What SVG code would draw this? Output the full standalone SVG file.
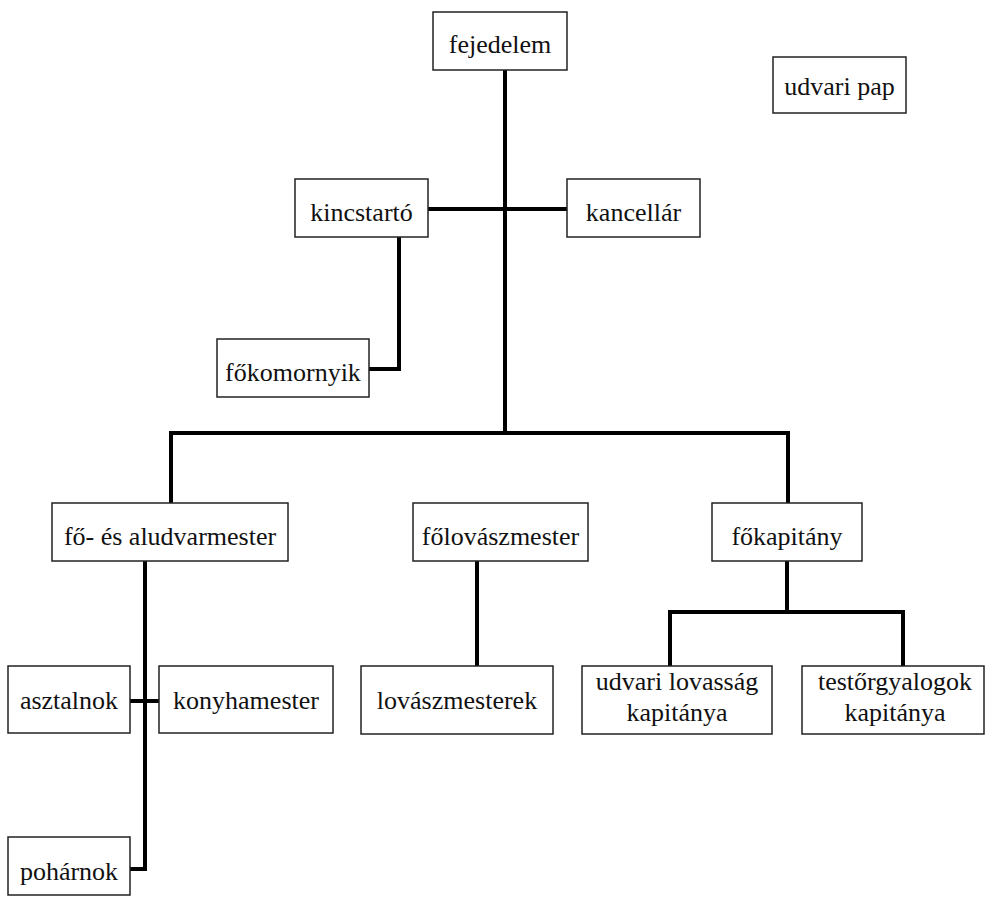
<svg xmlns="http://www.w3.org/2000/svg" width="986" height="901" viewBox="0 0 986 901">
<style>
.box{fill:#fff;stroke:#222;stroke-width:1.5}
.t{font-family:'Liberation Serif','Times New Roman',serif;font-size:26px;fill:#111;text-anchor:middle}
.c{fill:none;stroke:#000;stroke-width:4;stroke-linejoin:miter;stroke-linecap:butt}
</style>
<rect width="986" height="901" fill="#fff"/>
<g id="connectors">
<path class="c" d="M505,70 V433"/>
<path class="c" d="M428,209 H567"/>
<path class="c" d="M399,237 V369 H369"/>
<path class="c" d="M171,503 V433 H788 V503"/>
<path class="c" d="M145,561 V869 H130"/>
<path class="c" d="M130,701 H159"/>
<path class="c" d="M477,561 V666"/>
<path class="c" d="M787,561 V612"/>
<path class="c" d="M670,666 V612 H903 V666"/>
</g>
<g id="fejedelem"><rect class="box" x="433" y="12" width="134" height="58"/><text class="t" x="500" y="53">fejedelem</text></g>
<g id="udvari-pap"><rect class="box" x="773" y="57" width="133" height="56"/><text class="t" x="839.5" y="95">udvari pap</text></g>
<g id="kincstarto"><rect class="box" x="295" y="179" width="133" height="58"/><text class="t" x="361.5" y="221">kincstartó</text></g>
<g id="kancellar"><rect class="box" x="567" y="179" width="133" height="58"/><text class="t" x="633.5" y="221">kancellár</text></g>
<g id="fokomornyik"><rect class="box" x="217" y="339" width="152" height="58"/><text class="t" x="293" y="381">főkomornyik</text></g>
<g id="fo-es-aludvarmester"><rect class="box" x="52" y="503" width="236" height="58"/><text class="t" x="170" y="545">fő- és aludvarmester</text></g>
<g id="folovaszmester"><rect class="box" x="413" y="503" width="175" height="58"/><text class="t" x="500.5" y="545">főlovászmester</text></g>
<g id="fokapitany"><rect class="box" x="712" y="503" width="150" height="58"/><text class="t" x="787" y="545">főkapitány</text></g>
<g id="asztalnok"><rect class="box" x="8" y="666" width="122" height="67"/><text class="t" x="69" y="709">asztalnok</text></g>
<g id="konyhamester"><rect class="box" x="159" y="666" width="174" height="67"/><text class="t" x="246" y="709">konyhamester</text></g>
<g id="lovaszmesterek"><rect class="box" x="361" y="666" width="192" height="68"/><text class="t" x="457" y="709">lovászmesterek</text></g>
<g id="udvari-lovassag-kapitanya"><rect class="box" x="582" y="666" width="190" height="68"/><text class="t" x="677" y="690">udvari lovasság</text><text class="t" x="677" y="721">kapitánya</text></g>
<g id="testorgyalogok-kapitanya"><rect class="box" x="802" y="666" width="182" height="68"/><text class="t" x="895" y="690">testőrgyalogok</text><text class="t" x="895" y="721">kapitánya</text></g>
<g id="poharnok"><rect class="box" x="8" y="837" width="122" height="58"/><text class="t" x="69" y="880">pohárnok</text></g>
</svg>
